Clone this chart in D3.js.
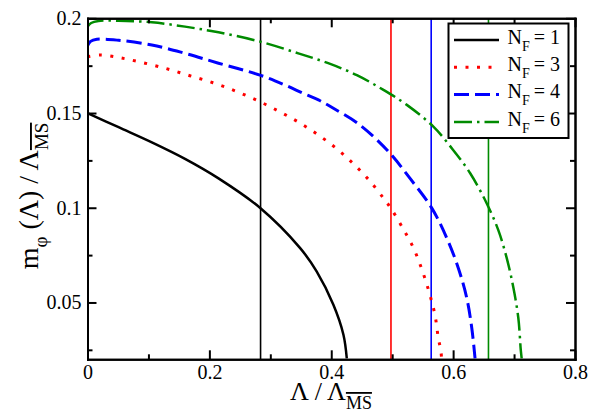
<!DOCTYPE html>
<html><head><meta charset="utf-8">
<script src="https://cdn.jsdelivr.net/npm/d3@7"></script>
<style>body{margin:0;background:#fff}svg{display:block}svg text{font-family:'Liberation Serif','DejaVu Serif',serif !important}</style>
</head><body>
<script>
// ---- data ----
const nf1X = [0, 0.051, 0.1056, 0.160, 0.215, 0.283, 0.349, 0.376, 0.4035, 0.42, 0.4255];
const nf1Y = [0.150, 0.1425, 0.1345, 0.1258, 0.1155, 0.100, 0.0787, 0.0664, 0.0488, 0.033, 0.0205];
const nf3X = [0, 0.021, 0.056, 0.0947, 0.133, 0.168, 0.2057, 0.242, 0.277, 0.3117, 0.3445, 0.377, 0.408, 0.4364, 0.4626, 0.4856, 0.4977, 0.5174, 0.535, 0.5495, 0.561, 0.5704, 0.5758, 0.5797, 0.581];
const nf3Y = [0.1797, 0.1806, 0.179, 0.1763, 0.1731, 0.1697, 0.166, 0.1617, 0.1569, 0.1513, 0.1455, 0.1388, 0.1314, 0.1232, 0.1144, 0.1051, 0.0998, 0.0892, 0.0787, 0.0667, 0.055, 0.0431, 0.0309, 0.025, 0.0205];
const nf4X = [0, 0.005, 0.0154, 0.051, 0.1056, 0.160, 0.215, 0.283, 0.324, 0.354, 0.379, 0.4035, 0.447, 0.494, 0.529, 0.565, 0.5896, 0.6086, 0.6224, 0.6306, 0.636];
const nf4Y = [0.1855, 0.1878, 0.1889, 0.1884, 0.1859, 0.1815, 0.1763, 0.1700, 0.1648, 0.1604, 0.1569, 0.1525, 0.1437, 0.1296, 0.1156, 0.0998, 0.084, 0.0681, 0.0523, 0.0365, 0.0205];
const nf6X = [0, 0.006, 0.018, 0.051, 0.1056, 0.16, 0.215, 0.283, 0.346, 0.395, 0.442, 0.4856, 0.524, 0.5676, 0.600, 0.628, 0.655, 0.674, 0.688, 0.699, 0.707, 0.711, 0.7125];
const nf6Y = [0.1955, 0.1975, 0.1986, 0.1987, 0.1979, 0.1956, 0.1926, 0.1877, 0.1815, 0.1763, 0.170, 0.1622, 0.1543, 0.1428, 0.1305, 0.1182, 0.1024, 0.0883, 0.0734, 0.0576, 0.0418, 0.025, 0.0205];
const seriesNames = ["1", "3", "4", "6"];
const seriesColors = ["#000000", "#ff0000", "#0000ff", "#008b00"];
const seriesDash = [null, "3,8.5", "15,6", "18,5,2.5,5"];
const seriesWidth = [2.5, 3, 3, 2.5];
const vLines = [0.284, 0.498, 0.564, 0.658];
const xMajor = [0, 0.2, 0.4, 0.6, 0.8];
const xMinor = [0.1, 0.3, 0.5, 0.7];
const yMajor = [0.05, 0.1, 0.15, 0.2];
const yMinor = [0.025, 0.075, 0.125, 0.175];

const series = [[nf1X, nf1Y], [nf3X, nf3Y], [nf4X, nf4Y], [nf6X, nf6Y]];

const W = 590, H = 414;
const L = 87.5, R = 575, T = 18.3, B = 359.3;
const x = d3.scaleLinear().domain([0, 0.8]).range([L, R]);
const y = d3.scaleLinear().domain([0.02, 0.2]).range([B, T]);

const svg = d3.select("body").append("svg").attr("width", W).attr("height", H);

svg.append("clipPath").attr("id", "clip").append("rect")
  .attr("x", L).attr("y", T).attr("width", R - L).attr("height", B - T);

const plot = svg.append("g").attr("clip-path", "url(#clip)");

// vertical lines
plot.selectAll("line.v").data(vLines).join("line")
  .attr("class", "v")
  .attr("x1", d => x(d)).attr("x2", d => x(d))
  .attr("y1", y(0.02)).attr("y2", y(0.2))
  .attr("stroke", (d, i) => seriesColors[i]).attr("stroke-width", 1.6);

const line = d3.line().x(d => x(d[0])).y(d => y(d[1])).curve(d3.curveCatmullRom.alpha(0.5));
series.forEach((s, i) => {
  const pts = s[0].map((v, j) => [v, s[1][j]]);
  plot.append("path").datum(pts)
    .attr("d", line).attr("fill", "none")
    .attr("stroke", seriesColors[i]).attr("stroke-width", seriesWidth[i])
    .attr("stroke-dasharray", seriesDash[i]);
});

// axes
function styleAxis(g) {
  g.attr("font-family", null);
  g.selectAll("path.domain").attr("stroke", "#000").attr("stroke-width", 2);
  g.selectAll(".tick line").attr("stroke", "#000").attr("stroke-width", 2);
  g.selectAll("text").attr("font-size", 20).attr("fill", "#000");
}
const fmt = d => d === 0 ? "0" : String(+d.toFixed(3));
svg.append("g").attr("transform", `translate(0,${B})`)
  .call(d3.axisBottom(x).tickValues(xMajor).tickFormat(fmt).tickSizeInner(-9).tickSizeOuter(0).tickPadding(6))
  .call(styleAxis);
svg.append("g").attr("transform", `translate(0,${B})`)
  .call(d3.axisBottom(x).tickValues(xMinor).tickFormat("").tickSizeInner(-5).tickSizeOuter(0))
  .call(styleAxis);
svg.append("g").attr("transform", `translate(0,${T})`)
  .call(d3.axisTop(x).tickValues(xMajor).tickFormat("").tickSizeInner(-9).tickSizeOuter(0))
  .call(styleAxis);
svg.append("g").attr("transform", `translate(0,${T})`)
  .call(d3.axisTop(x).tickValues(xMinor).tickFormat("").tickSizeInner(-5).tickSizeOuter(0))
  .call(styleAxis);
svg.append("g").attr("transform", `translate(${L},0)`)
  .call(d3.axisLeft(y).tickValues(yMajor).tickFormat(fmt).tickSizeInner(-9).tickSizeOuter(0).tickPadding(6))
  .call(styleAxis);
svg.append("g").attr("transform", `translate(${L},0)`)
  .call(d3.axisLeft(y).tickValues(yMinor).tickFormat("").tickSizeInner(-5).tickSizeOuter(0))
  .call(styleAxis);
svg.append("g").attr("transform", `translate(${R},0)`)
  .call(d3.axisRight(y).tickValues(yMajor).tickFormat("").tickSizeInner(-9).tickSizeOuter(0))
  .call(styleAxis);
svg.append("g").attr("transform", `translate(${R},0)`)
  .call(d3.axisRight(y).tickValues(yMinor).tickFormat("").tickSizeInner(-5).tickSizeOuter(0))
  .call(styleAxis);
svg.selectAll("path.domain").attr("stroke-linecap", "square");

// legend
const lg = svg.append("g");
lg.append("rect").attr("x", 448.5).attr("y", 23.5).attr("width", 120).attr("height", 114.5)
  .attr("fill", "#fff").attr("stroke", "#000").attr("stroke-width", 2);
seriesNames.forEach((n, i) => {
  const cy = 40 + i * 27.3;
  lg.append("line").attr("x1", 454).attr("x2", 499).attr("y1", cy).attr("y2", cy)
    .attr("stroke", seriesColors[i]).attr("stroke-width", seriesWidth[i])
    .attr("stroke-dasharray", seriesDash[i]);
  const t = lg.append("text").attr("x", 507.5).attr("y", cy + 3.7).attr("font-size", 20).attr("fill", "#000");
  t.append("tspan").text("N");
  t.append("tspan").attr("font-size", 14).attr("dy", 7).text("F");
  t.append("tspan").attr("dy", -7).attr("dx", 4).text("= " + n);
});

// axis titles
const xt = svg.append("text").attr("x", 331).attr("y", 400).attr("text-anchor", "middle")
  .attr("font-size", 26).attr("fill", "#000");
xt.append("tspan").text("Λ / Λ");
xt.append("tspan").attr("font-size", 18).attr("dy", 9)
  .style("text-decoration", "overline").text("MS");

const yt = svg.append("text").attr("transform", "translate(38,196) rotate(-90)")
  .attr("text-anchor", "middle").attr("font-size", 28).attr("fill", "#000");
yt.append("tspan").text("m");
yt.append("tspan").attr("font-size", 19).attr("dy", 9).text("φ");
yt.append("tspan").attr("dy", -9).text(" (Λ) / Λ");
yt.append("tspan").attr("font-size", 19).attr("dy", 10)
  .style("text-decoration", "overline").text("MS");
</script>
</body></html>
